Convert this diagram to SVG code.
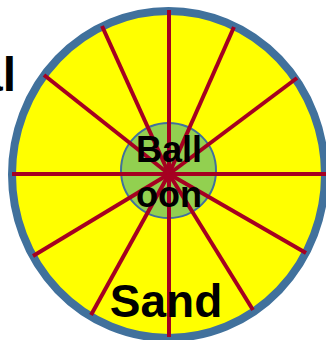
<svg xmlns="http://www.w3.org/2000/svg" width="326" height="340" viewBox="0 0 326 340">
<style>
.t{font-family:"Liberation Sans",Arial,sans-serif;font-weight:bold;fill:#000}
.sp{stroke:#a50021;stroke-width:4;fill:none}
</style>
<rect width="326" height="340" fill="#fff"/>
<text class="t" x="16" y="91" font-size="48" text-anchor="end">al</text>
<g id="outer">
<ellipse cx="168.5" cy="174.5" rx="156.5" ry="163.5" fill="#ffff00" stroke="#41719c" stroke-width="8"/>
</g>
<g id="inner">
<circle cx="168.5" cy="170.5" r="47.5" fill="#92d050" stroke="#41719c" stroke-width="2"/>
</g>
<g id="spokes" class="sp">
<line x1="169" y1="174" x2="169" y2="10"/>
<line x1="169" y1="174" x2="234" y2="27"/>
<line x1="169" y1="174" x2="297" y2="78"/>
<line x1="169" y1="174" x2="326" y2="174"/>
<line x1="169" y1="174" x2="306" y2="253"/>
<line x1="169" y1="174" x2="253" y2="310"/>
<line x1="169" y1="174" x2="169" y2="337"/>
<line x1="169" y1="174" x2="91" y2="315"/>
<line x1="169" y1="174" x2="33" y2="256"/>
<line x1="169" y1="174" x2="12" y2="174"/>
<line x1="169" y1="174" x2="44" y2="75"/>
<line x1="169" y1="174" x2="102" y2="26"/>
</g>
<g id="labels">
<text class="t" x="169" y="162" font-size="36" text-anchor="middle">Ball</text>
<text class="t" x="169" y="207" font-size="36" text-anchor="middle">oon</text>
<text class="t" x="166" y="317" font-size="46" text-anchor="middle">Sand</text>
</g>
</svg>
